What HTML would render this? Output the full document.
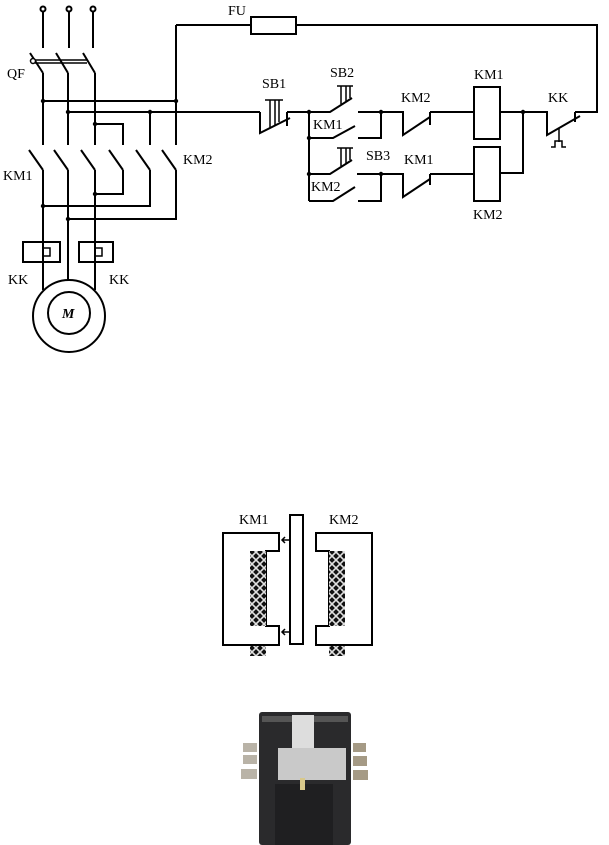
<!DOCTYPE html>
<html><head><meta charset="utf-8"><style>
html,body{margin:0;padding:0;background:#fff;}
svg{display:block}
text{font-family:"Liberation Serif",serif;font-size:14px;fill:#000}
</style></head><body>
<svg width="609" height="845" viewBox="0 0 609 845" xmlns="http://www.w3.org/2000/svg">
<defs>
<pattern id="h" width="8" height="8" patternUnits="userSpaceOnUse">
<rect width="8" height="8" fill="#111"/>
<path d="M0 0L8 8M8 0L0 8" stroke="#e0e0e0" stroke-width="1.6"/>
</pattern>
</defs>
<g stroke="#000" stroke-width="2" fill="none">
<circle cx="43" cy="9" r="2.5" fill="#fff"/><circle cx="69" cy="9" r="2.5" fill="#fff"/><circle cx="93" cy="9" r="2.5" fill="#fff"/>
<path d="M43 12V48M69 12V48M93 12V48"/>
<path d="M30 53L43 73M56 53L68 73M83 53L95 73"/>
<path d="M35 60H87M35 63H87" stroke-width="1.5"/>
<circle cx="33" cy="61" r="2.5" fill="#fff" stroke-width="1.5"/>
<path d="M43 73V145M68 73V145M95 73V145"/>
<path d="M43 101H176M68 112H260M95 124H123V145M150 112V145M176 25V145"/>
<path d="M29 150L43 170M54 150L68 170M81 150L95 170M109 150L123 170M136 150L150 170M162 150L176 170"/>
<path d="M43 170V290M68 170V280M95 170V290"/>
<path d="M123 170V194H95M150 170V206H43M176 170V219H68"/>
<path d="M23 242H60V262H23ZM79 242H113V262H79Z"/>
<path d="M43 248H50V256H43M95 248H102V256H95" stroke-width="1.5"/>
<circle cx="69" cy="316" r="36"/>
<circle cx="69" cy="313" r="21"/>
<path d="M176 25H251M296 25H357H597V112H578"/>
<rect x="251" y="17" width="45" height="17"/>
<path d="M260 112V133L290 118M287 112V126M287 112H309"/>
<path d="M265 100H283M270 100V128M275 100V126M279 100V122" stroke-width="1.5"/>
<path d="M309 112V201"/>
<path d="M309 112H330L352 98M358 112H381M381 112V138H358"/>
<path d="M337 86H353M341 86V104M346 86V101M350 86V98" stroke-width="1.5"/>
<path d="M309 138H333L355 126"/>
<path d="M381 112H403V135L430 117M430 112V125M430 112H474"/>
<rect x="474" y="87" width="26" height="52"/>
<path d="M500 112H547V135L580 116M575 112V122M575 112H597"/>
<path d="M559 128V142M551 147H555V141H562V147H566" stroke-width="1.5"/>
<path d="M523 112V173H500"/>
<rect x="474" y="147" width="26" height="54"/>
<path d="M309 174H330L352 160M357 174H381M381 174V201H358"/>
<path d="M337 148H353M341 148V166M346 148V163M350 148V160" stroke-width="1.5"/>
<path d="M309 201H333L355 187"/>
<path d="M381 174H403V197L430 179M430 174V185M430 174H474"/>
</g>
<g fill="#000">
<circle cx="43" cy="101" r="2.2"/><circle cx="176" cy="101" r="2.2"/><circle cx="68" cy="112" r="2.2"/><circle cx="150" cy="112" r="2.2"/><circle cx="95" cy="124" r="2.2"/>
<circle cx="95" cy="194" r="2.2"/><circle cx="43" cy="206" r="2.2"/><circle cx="68" cy="219" r="2.2"/>
<circle cx="309" cy="112" r="2.2"/><circle cx="309" cy="138" r="2.2"/><circle cx="309" cy="174" r="2.2"/><circle cx="381" cy="112" r="2.2"/><circle cx="381" cy="174" r="2.2"/><circle cx="523" cy="112" r="2.2"/>
</g>
<text x="7" y="78">QF</text><text x="3" y="180">KM1</text><text x="183" y="164">KM2</text>
<text x="8" y="284">KK</text><text x="109" y="284">KK</text><text x="228" y="15">FU</text>
<text x="62" y="318" font-style="italic" font-weight="bold" font-size="13">M</text>
<text x="262" y="88">SB1</text><text x="330" y="77">SB2</text><text x="313" y="129">KM1</text>
<text x="401" y="102">KM2</text><text x="474" y="79">KM1</text><text x="548" y="102">KK</text>
<text x="366" y="160">SB3</text><text x="404" y="164">KM1</text><text x="311" y="191">KM2</text><text x="473" y="219">KM2</text>
<g stroke="#000" stroke-width="2" fill="#fff">
<path d="M223 533H279V551H266V626H279V645H223Z"/>
<path d="M372 533H316V551H329V626H316V645H372Z"/>
<rect x="290" y="515" width="13" height="129"/>
</g>
<rect x="250" y="551" width="16" height="75" fill="url(#h)"/>
<rect x="250" y="646" width="16" height="10" fill="url(#h)"/>
<rect x="329" y="551" width="16" height="75" fill="url(#h)"/>
<rect x="329" y="646" width="16" height="10" fill="url(#h)"/>
<path d="M290 540H282M285 537L282 540L285 543M290 632H282M285 629L282 632L285 635" stroke="#000" stroke-width="1.5" fill="none"/>
<text x="239" y="524" font-size="13">KM1</text><text x="329" y="524" font-size="13">KM2</text>
<rect x="243" y="743" width="14" height="9" fill="#b9b3a7"/><rect x="243" y="755" width="14" height="9" fill="#b9b3a7"/><rect x="241" y="769" width="16" height="10" fill="#b9b3a7"/>
<rect x="353" y="743" width="13" height="9" fill="#a59a85"/><rect x="353" y="756" width="14" height="10" fill="#a59a85"/><rect x="353" y="770" width="15" height="10" fill="#a59a85"/>
<rect x="259" y="712" width="92" height="133" rx="3" fill="#2a2a2c"/>
<rect x="262" y="716" width="86" height="6" fill="#555"/>
<rect x="292" y="715" width="22" height="33" fill="#ddd"/>
<rect x="278" y="748" width="68" height="32" fill="#c9c9c9"/>
<rect x="275" y="784" width="58" height="61" fill="#1f1f21"/>
<rect x="300" y="778" width="5" height="12" fill="#d8c88a"/>
</svg>
</body></html>
